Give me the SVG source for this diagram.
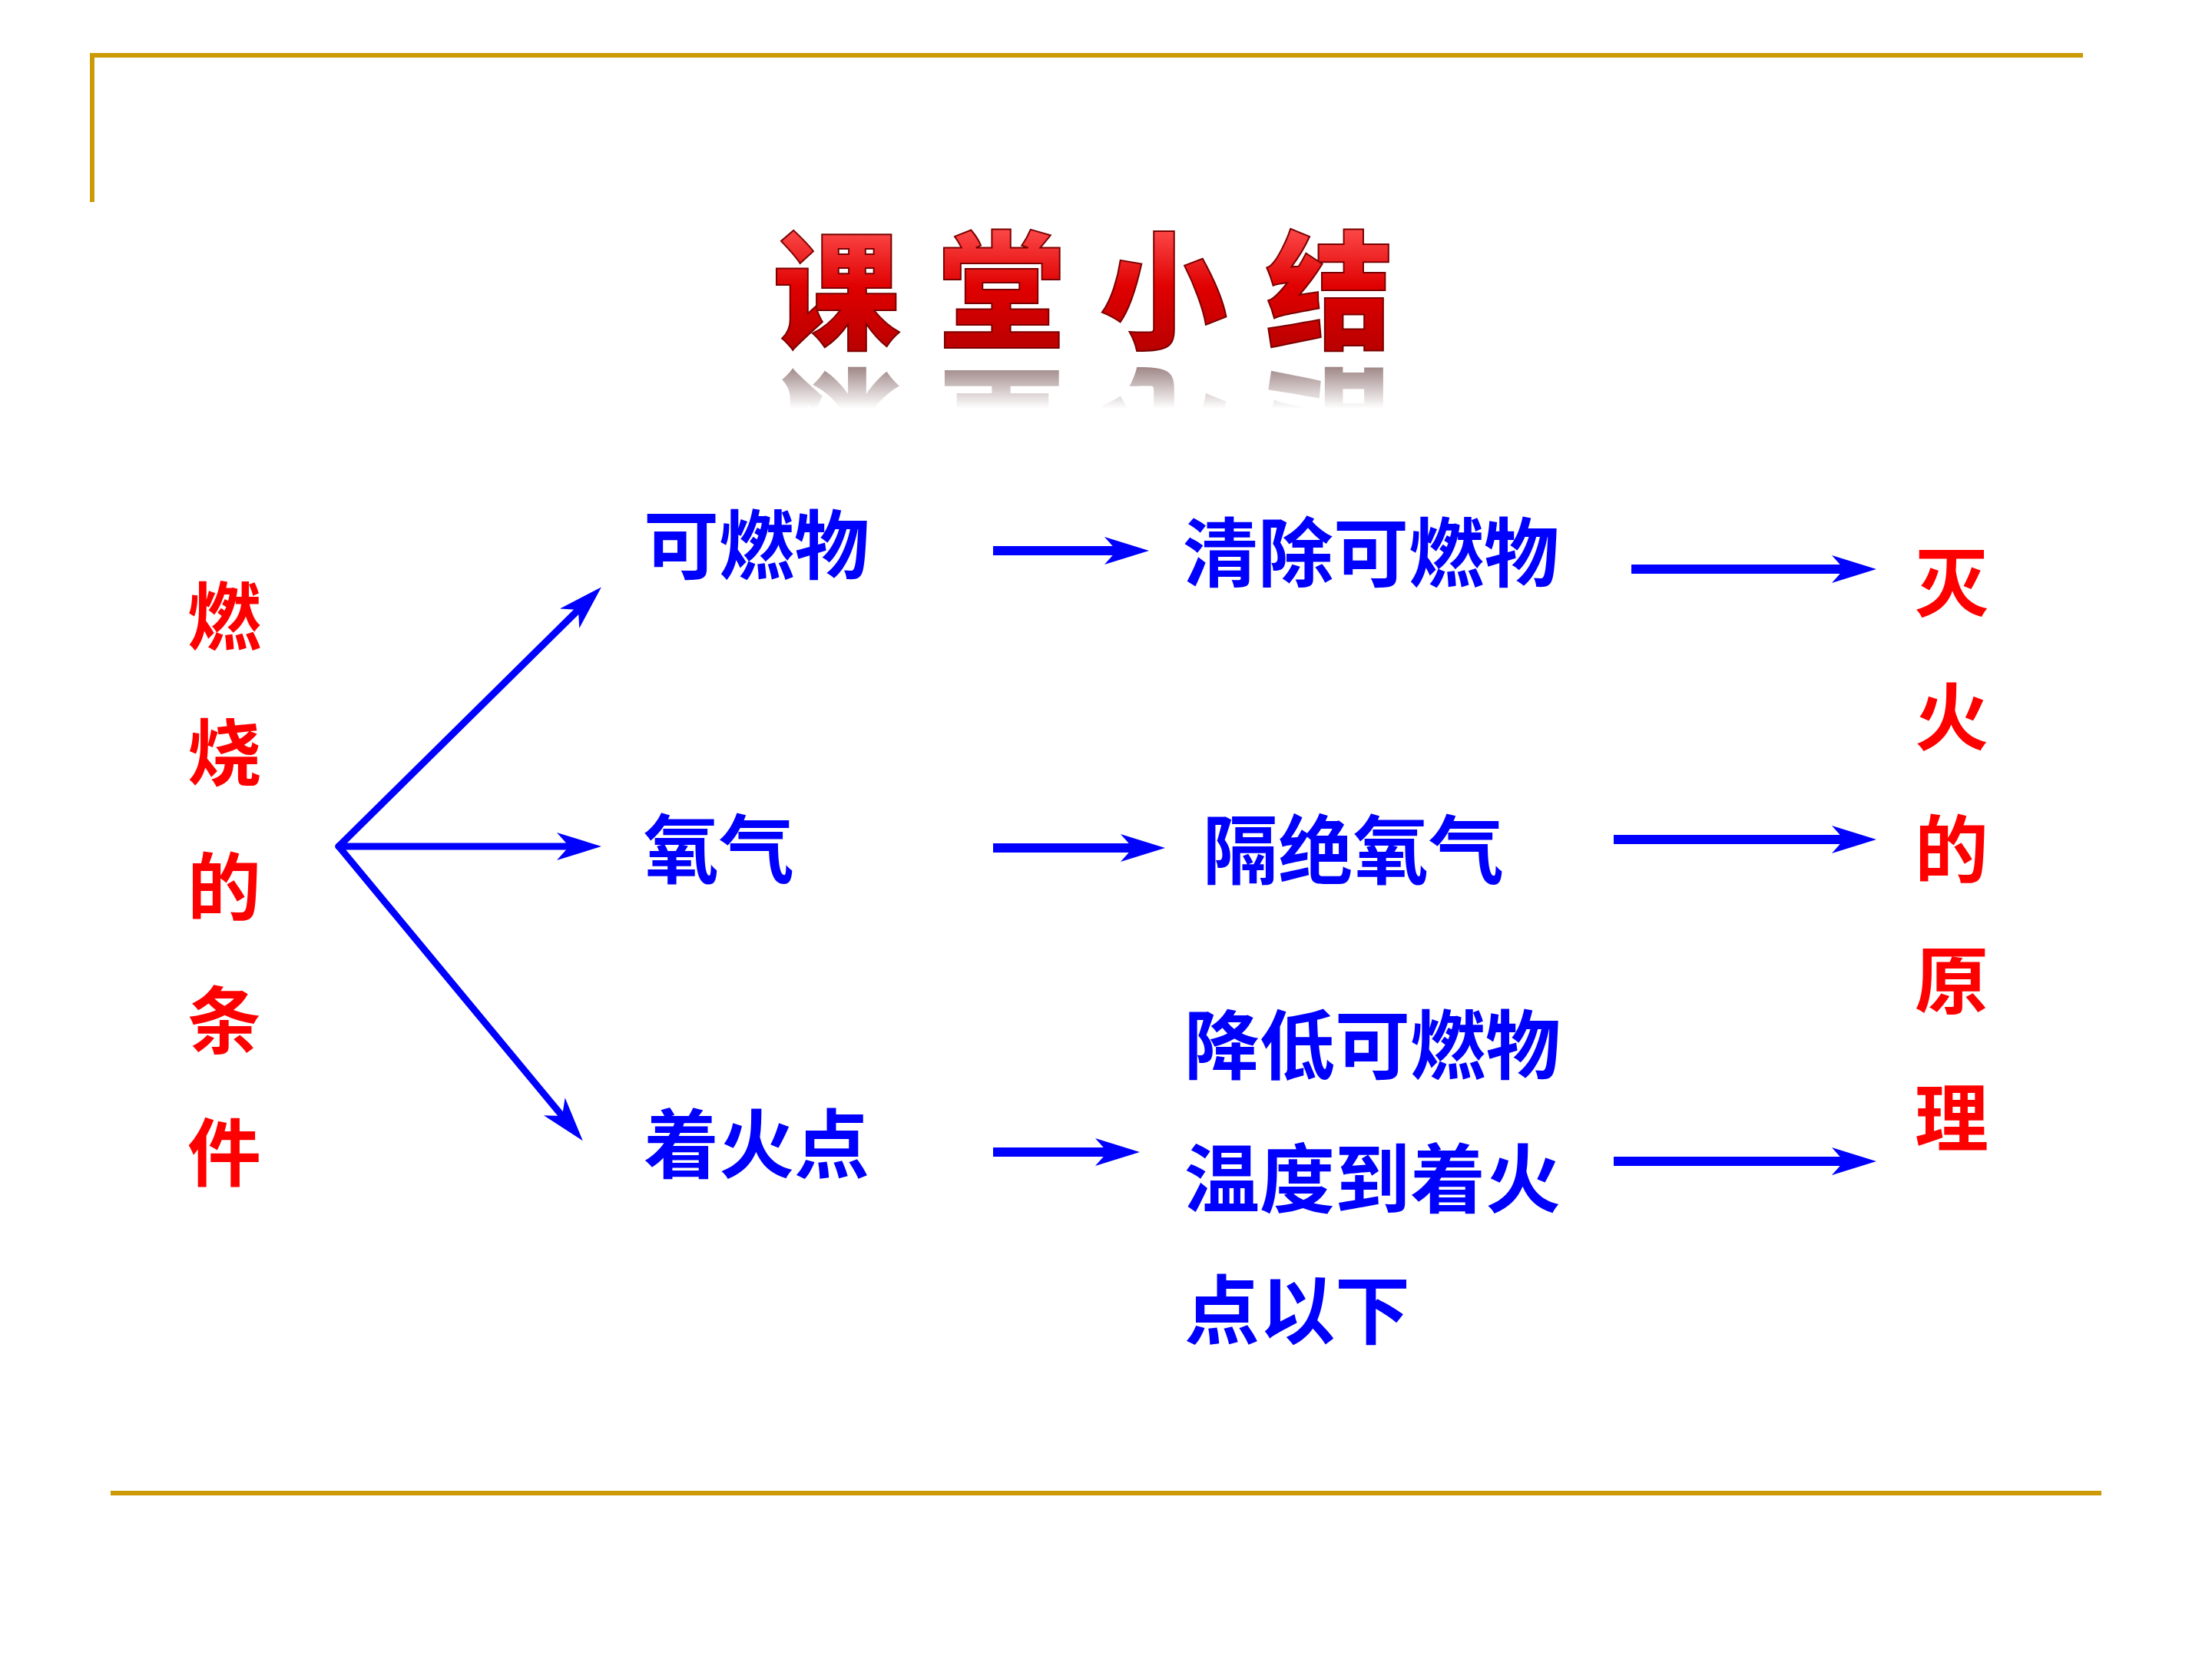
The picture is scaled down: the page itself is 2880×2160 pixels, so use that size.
<svg xmlns="http://www.w3.org/2000/svg" width="2880" height="2160" viewBox="0 0 2880 2160">
  <style>
    .blue { font-family: "Liberation Sans", "Noto Sans CJK SC", sans-serif; font-size: 98px; font-weight: 700; fill: #0000FF; dominant-baseline: central; }
    .red { font-family: "Liberation Sans", "Noto Sans CJK SC", sans-serif; font-size: 96px; font-weight: 700; fill: #FF0000; dominant-baseline: central; text-anchor: middle; }
    .title { font-family: "Liberation Sans", "Noto Sans CJK SC", sans-serif; font-size: 166px; font-weight: 900; dominant-baseline: central; text-anchor: middle; }
    .frame { stroke: #CC9A06; stroke-width: 6; fill: none; }
    .thin { stroke: #0000FF; stroke-width: 9; stroke-linecap: round; fill: none; marker-end: url(#head); }
    .thick { stroke: #0000FF; stroke-width: 12; fill: none; marker-end: url(#head); }
  </style>
  <defs>
    <marker id="head" markerUnits="userSpaceOnUse" markerWidth="60" markerHeight="40" viewBox="0 -20 60 40" refX="16" refY="0" orient="auto">
      <path d="M0,-18 L58,0 L0,18 L16,0 Z" fill="#0000FF"/>
    </marker>
    <linearGradient id="titleFill" x1="0" y1="0" x2="0" y2="1">
      <stop offset="0" stop-color="#FF5050"/>
      <stop offset="0.45" stop-color="#E00000"/>
      <stop offset="1" stop-color="#B00000"/>
    </linearGradient>
    <linearGradient id="fadeGrad" x1="0" y1="0" x2="0" y2="1">
      <stop offset="0" stop-color="#FFFFFF" stop-opacity="0.85"/>
      <stop offset="1" stop-color="#FFFFFF" stop-opacity="0"/>
    </linearGradient>
    <mask id="fade" maskUnits="userSpaceOnUse" maskContentUnits="userSpaceOnUse" x="900" y="460" width="1000" height="90">
      <rect x="900" y="468" width="1000" height="64" fill="url(#fadeGrad)"/>
    </mask>
  </defs>

  <rect x="0" y="0" width="2880" height="2160" fill="#FFFFFF"/>

  <g id="frame">
    <path class="frame" d="M120,263 L120,72 L2712,72"/>
    <line class="frame" x1="144" y1="1944" x2="2736" y2="1944"/>
  </g>

  <g id="title">
    <g mask="url(#fade)">
      <g transform="translate(0,934) scale(1,-1)" fill="#7A5858">
        <text class="title" x="1089" y="383">课</text>
        <text class="title" x="1304" y="383">堂</text>
        <text class="title" x="1515" y="383">小</text>
        <text class="title" x="1731" y="383">结</text>
      </g>
    </g>
    <g fill="url(#titleFill)" stroke="#7A0000" stroke-width="2">
      <text class="title" x="1089" y="383">课</text>
      <text class="title" x="1304" y="383">堂</text>
      <text class="title" x="1515" y="383">小</text>
      <text class="title" x="1731" y="383">结</text>
    </g>
  </g>

  <g id="conditions">
    <text class="red" x="292" y="804">燃</text>
    <text class="red" x="292" y="981">烧</text>
    <text class="red" x="292" y="1156">的</text>
    <text class="red" x="292" y="1330">条</text>
    <text class="red" x="292" y="1502">件</text>
  </g>

  <g id="node-fuel"><text class="blue" x="838" y="712">可燃物</text></g>
  <g id="node-oxygen"><text class="blue" x="838" y="1108">氧气</text></g>
  <g id="node-ignition"><text class="blue" x="838" y="1492">着火点</text></g>

  <g id="node-remove"><text class="blue" x="1540" y="722">清除可燃物</text></g>
  <g id="node-isolate"><text class="blue" x="1566" y="1109">隔绝氧气</text></g>
  <g id="node-cool">
    <text class="blue" x="1542" y="1363">降低可燃物</text>
    <text class="blue" x="1542" y="1537">温度到着火</text>
    <text class="blue" x="1542" y="1708">点以下</text>
  </g>

  <g id="principle">
    <text class="red" x="2541" y="760">灭</text>
    <text class="red" x="2541" y="935">火</text>
    <text class="red" x="2541" y="1107">的</text>
    <text class="red" x="2541" y="1278">原</text>
    <text class="red" x="2541" y="1457">理</text>
  </g>

  <g id="connectors">
    <line class="thin" x1="441" y1="1102" x2="753" y2="794"/>
    <line class="thin" x1="441" y1="1102" x2="741" y2="1102"/>
    <line class="thin" x1="441" y1="1102" x2="732" y2="1453"/>
    <line class="thick" x1="1293" y1="717" x2="1454" y2="717"/>
    <line class="thick" x1="1293" y1="1104" x2="1475" y2="1104"/>
    <line class="thick" x1="1293" y1="1500" x2="1442" y2="1500"/>
    <line class="thick" x1="2124" y1="741" x2="2401" y2="741"/>
    <line class="thick" x1="2101" y1="1093" x2="2401" y2="1093"/>
    <line class="thick" x1="2101" y1="1512" x2="2401" y2="1512"/>
  </g>
</svg>
